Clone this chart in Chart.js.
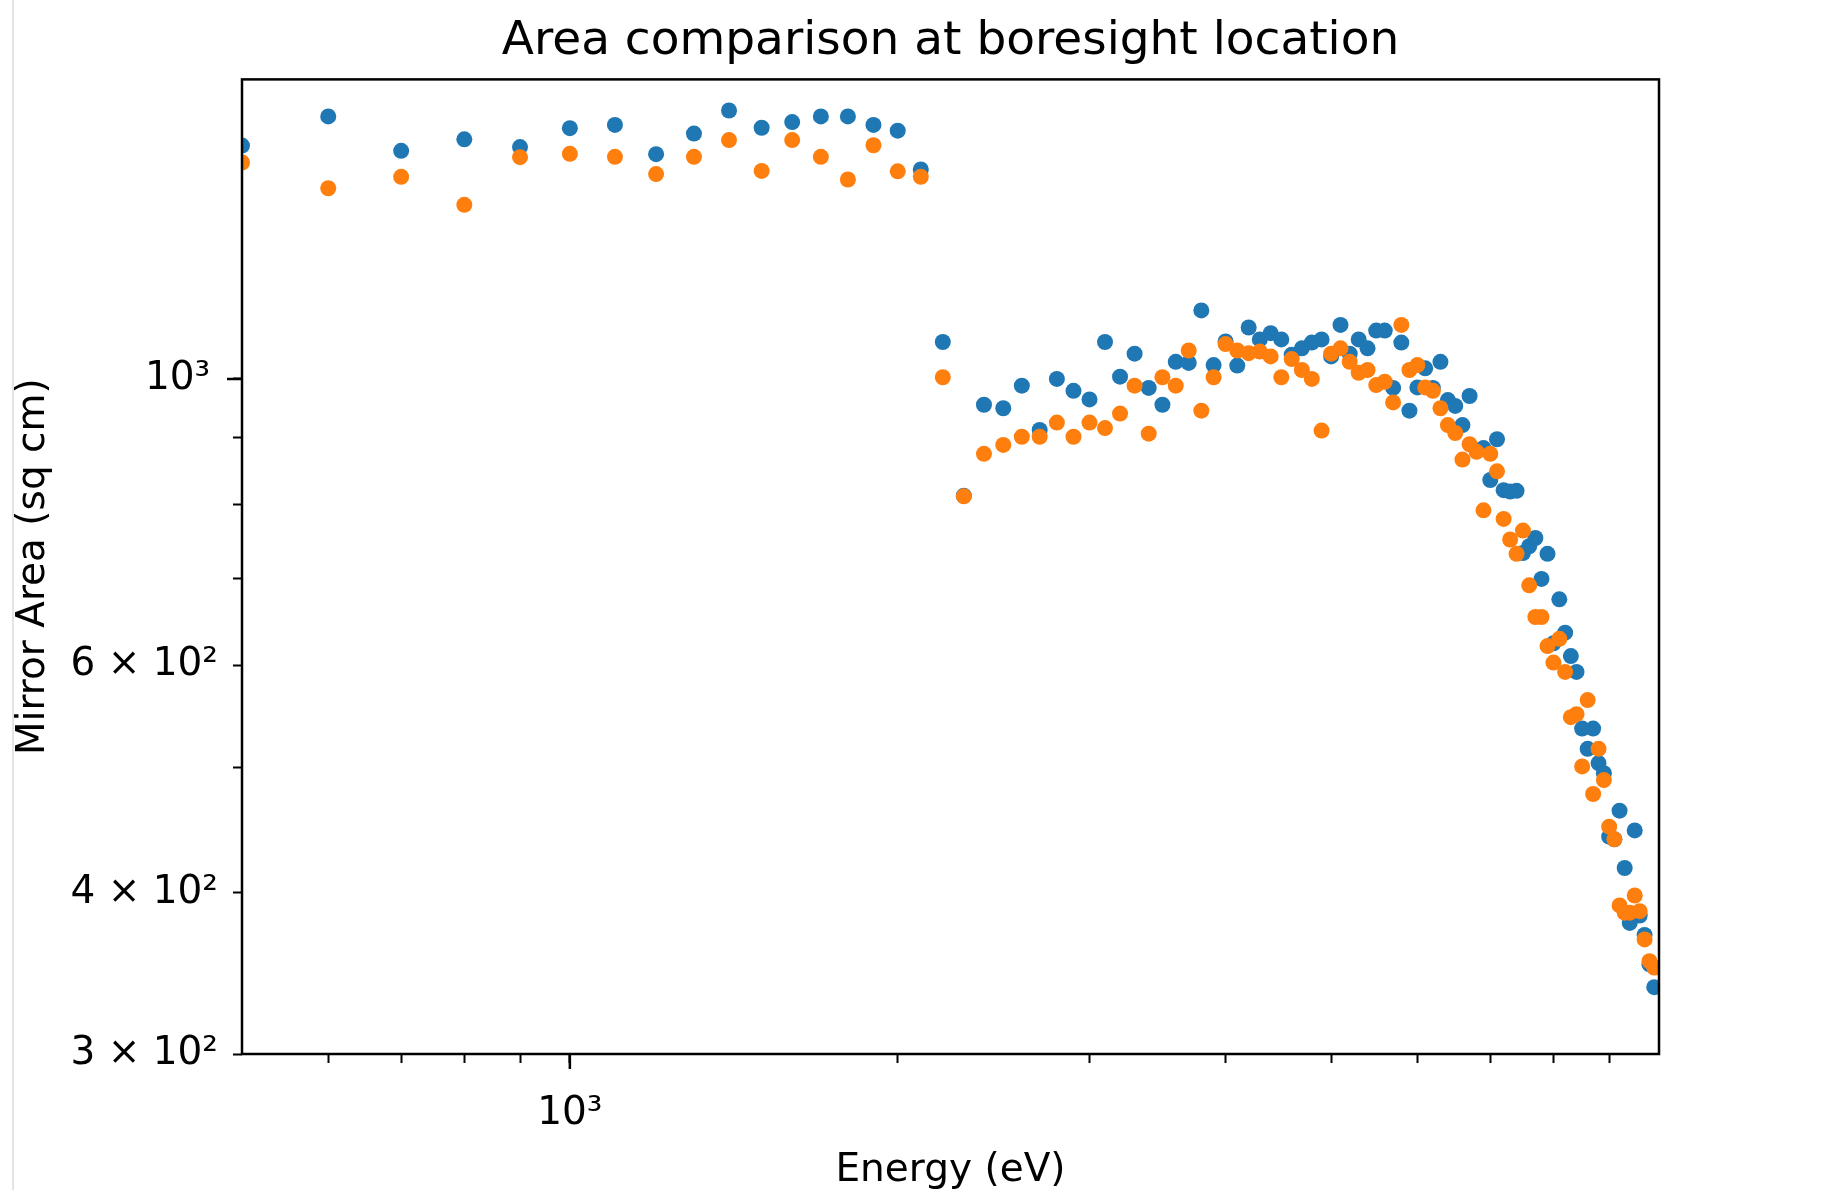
<!DOCTYPE html>
<html lang="en">
<head>
    <meta charset="UTF-8">
    <title>Area comparison at boresight location</title>
    <script src="https://cdn.jsdelivr.net/npm/chart.js@4.4.1/dist/chart.umd.min.js"></script>
    <style>
        * { margin: 0; padding: 0; box-sizing: border-box; }
        body { background: #fff; overflow: hidden; }
        .wrap { position: relative; width: 1832px; height: 1190px; }
        .edge { position: absolute; left: 12px; top: 0; width: 2px; height: 1190px; background: #e4e4e4; }
    </style>
</head>
<body>
    <div class="wrap">
        <div class="edge"></div>
        <canvas id="areaChart"></canvas>
    </div>

    <script>
        // Energy grid (eV)
        const energy = [
            500, 600, 700, 800, 900, 1000, 1100, 1200, 1300, 1400, 1500, 1600, 1700, 1800, 1900, 2000, 2100,
            2200, 2300, 2400, 2500, 2600, 2700, 2800, 2900, 3000, 3100, 3200, 3300, 3400, 3500, 3600, 3700,
            3800, 3900, 4000, 4100, 4200, 4300, 4400, 4500, 4600, 4700, 4800, 4900, 5000, 5100, 5200, 5300,
            5400, 5500, 5600, 5700, 5800, 5900, 6000, 6100, 6200, 6300, 6400, 6500, 6600, 6700, 6800, 6900,
            7000, 7100, 7200, 7300, 7400, 7500, 7600, 7700, 7800, 7900, 8000, 8100, 8200, 8300, 8400, 8500,
            8600, 8700, 8800, 8900, 9000, 9100, 9200, 9300, 9400, 9500, 9600, 9700, 9800, 9900
        ];

        // first series (blue)
        const areaBlue = [
            1516, 1597, 1502, 1533, 1512, 1564, 1573, 1493, 1549, 1614, 1565, 1581, 1597, 1597, 1573, 1557, 1453,
            1068, 812, 955, 949, 988, 913, 1000, 979, 964, 1068, 1004, 1046, 984, 955, 1031, 1029,
            1130, 1025, 1069, 1024, 1096, 1073, 1085, 1073, 1044, 1056, 1067, 1073, 1041, 1101, 1046, 1073,
            1056, 1090, 1090, 984, 1067, 945, 985, 1019, 984, 1031, 963, 953, 921, 970, 880, 884,
            835, 898, 820, 818, 819, 733, 742, 753, 700, 732, 624, 675, 636, 610, 593, 536,
            517, 536, 504, 495, 442, 440, 463, 418, 379, 447, 384, 371, 352, 338
        ];

        // second series (orange)
        const areaOrange = [
            1471, 1405, 1434, 1364, 1485, 1494, 1486, 1441, 1486, 1531, 1449, 1531, 1486, 1427, 1517, 1448, 1434,
            1003, 811, 875, 889, 902, 902, 925, 902, 925, 916, 940, 988, 907, 1003, 988, 1052,
            945, 1003, 1064, 1052, 1047, 1050, 1041, 1003, 1036, 1016, 1000, 912, 1046, 1056, 1031, 1011,
            1016, 989, 995, 959, 1101, 1016, 1025, 985, 979, 949, 921, 908, 866, 890, 878, 791,
            875, 848, 779, 751, 732, 763, 692, 654, 654, 621, 603, 629, 593, 547, 550, 501,
            564, 477, 517, 489, 450, 440, 391, 386, 386, 398, 387, 368, 354, 350
        ];

        // tick positions and the labels shown on them
        const xTicks = [600, 700, 800, 900, 1000, 2000, 3000, 4000, 5000, 6000, 7000, 8000, 9000];
        const xTickLabels = { 1000: '10³' };
        const yTicks = [300, 400, 500, 600, 700, 800, 900, 1000];
        const yTickLabels = { 300: '3 × 10²', 400: '4 × 10²', 600: '6 × 10²', 1000: '10³\u2009' };

        Chart.defaults.font.family = "'DejaVu Sans', sans-serif";
        Chart.defaults.color = '#000';

        // box around the axes + the longer major ticks
        const framePlugin = {
            id: 'frame',
            afterDatasetsDraw(chart) {
                const { ctx, chartArea: a, scales } = chart;
                ctx.save();
                ctx.strokeStyle = '#000';
                ctx.lineWidth = 2.5;
                ctx.strokeRect(a.left, a.top, a.right - a.left, a.bottom - a.top);
                ctx.beginPath();
                const px = scales.x.getPixelForValue(1000);
                ctx.moveTo(px, a.bottom);
                ctx.lineTo(px, a.bottom + 15);
                const py = scales.y.getPixelForValue(1000);
                ctx.moveTo(a.left, py);
                ctx.lineTo(a.left - 15, py);
                ctx.stroke();
                ctx.restore();
            }
        };

        const pts = (vals) => energy.map((e, i) => ({ x: e, y: vals[i] }));

        new Chart(document.getElementById('areaChart'), {
            type: 'scatter',
            data: {
                datasets: [
                    {
                        label: 'blue',
                        data: pts(areaBlue),
                        backgroundColor: '#1f77b4',
                        borderWidth: 0,
                        pointRadius: 8,
                        pointHoverRadius: 8,
                        clip: 0,
                        order: 1
                    },
                    {
                        label: 'orange',
                        data: pts(areaOrange),
                        backgroundColor: '#ff7f0e',
                        borderWidth: 0,
                        pointRadius: 8,
                        pointHoverRadius: 8,
                        clip: 0,
                        order: 0
                    }
                ]
            },
            options: {
                responsive: true,
                maintainAspectRatio: false,
                animation: false,
                layout: { padding: { left: 0, right: 173, top: 0, bottom: 0 } },
                plugins: {
                    legend: { display: false },
                    tooltip: { enabled: false },
                    title: {
                        display: true,
                        fullSize: false,
                        text: 'Area comparison at boresight location',
                        font: { size: 47, weight: 'normal' },
                        color: '#000',
                        padding: { top: 14, bottom: 9 }
                    }
                },
                scales: {
                    x: {
                        type: 'logarithmic',
                        min: 500,
                        max: 10000,
                        afterBuildTicks: (scale) => { scale.ticks = xTicks.map(v => ({ value: v })); },
                        afterFit: (scale) => { scale.height = 136; },
                        border: { display: false },
                        grid: { drawOnChartArea: false, tickLength: 9, tickWidth: 2, tickColor: '#000' },
                        ticks: {
                            autoSkip: false,
                            maxRotation: 0,
                            padding: 27,
                            font: { size: 39 },
                            callback: (v) => xTickLabels[v] || ''
                        },
                        title: {
                            display: true,
                            text: 'Energy (eV)',
                            font: { size: 39, lineHeight: 1 },
                            padding: { top: 0, bottom: 0 }
                        }
                    },
                    y: {
                        type: 'logarithmic',
                        min: 300,
                        max: 1706,
                        afterBuildTicks: (scale) => { scale.ticks = yTicks.map(v => ({ value: v })); },
                        afterFit: (scale) => { scale.width = 242; },
                        border: { display: false },
                        grid: { drawOnChartArea: false, tickLength: 9, tickWidth: 2, tickColor: '#000' },
                        ticks: {
                            autoSkip: false,
                            padding: 15,
                            font: { size: 39 },
                            callback: (v) => yTickLabels[v] || ''
                        },
                        title: {
                            display: true,
                            text: 'Mirror Area (sq cm)',
                            font: { size: 39 },
                            padding: { top: 10, bottom: 0 }
                        }
                    }
                }
            },
            plugins: [framePlugin]
        });
    </script>
</body>
</html>
